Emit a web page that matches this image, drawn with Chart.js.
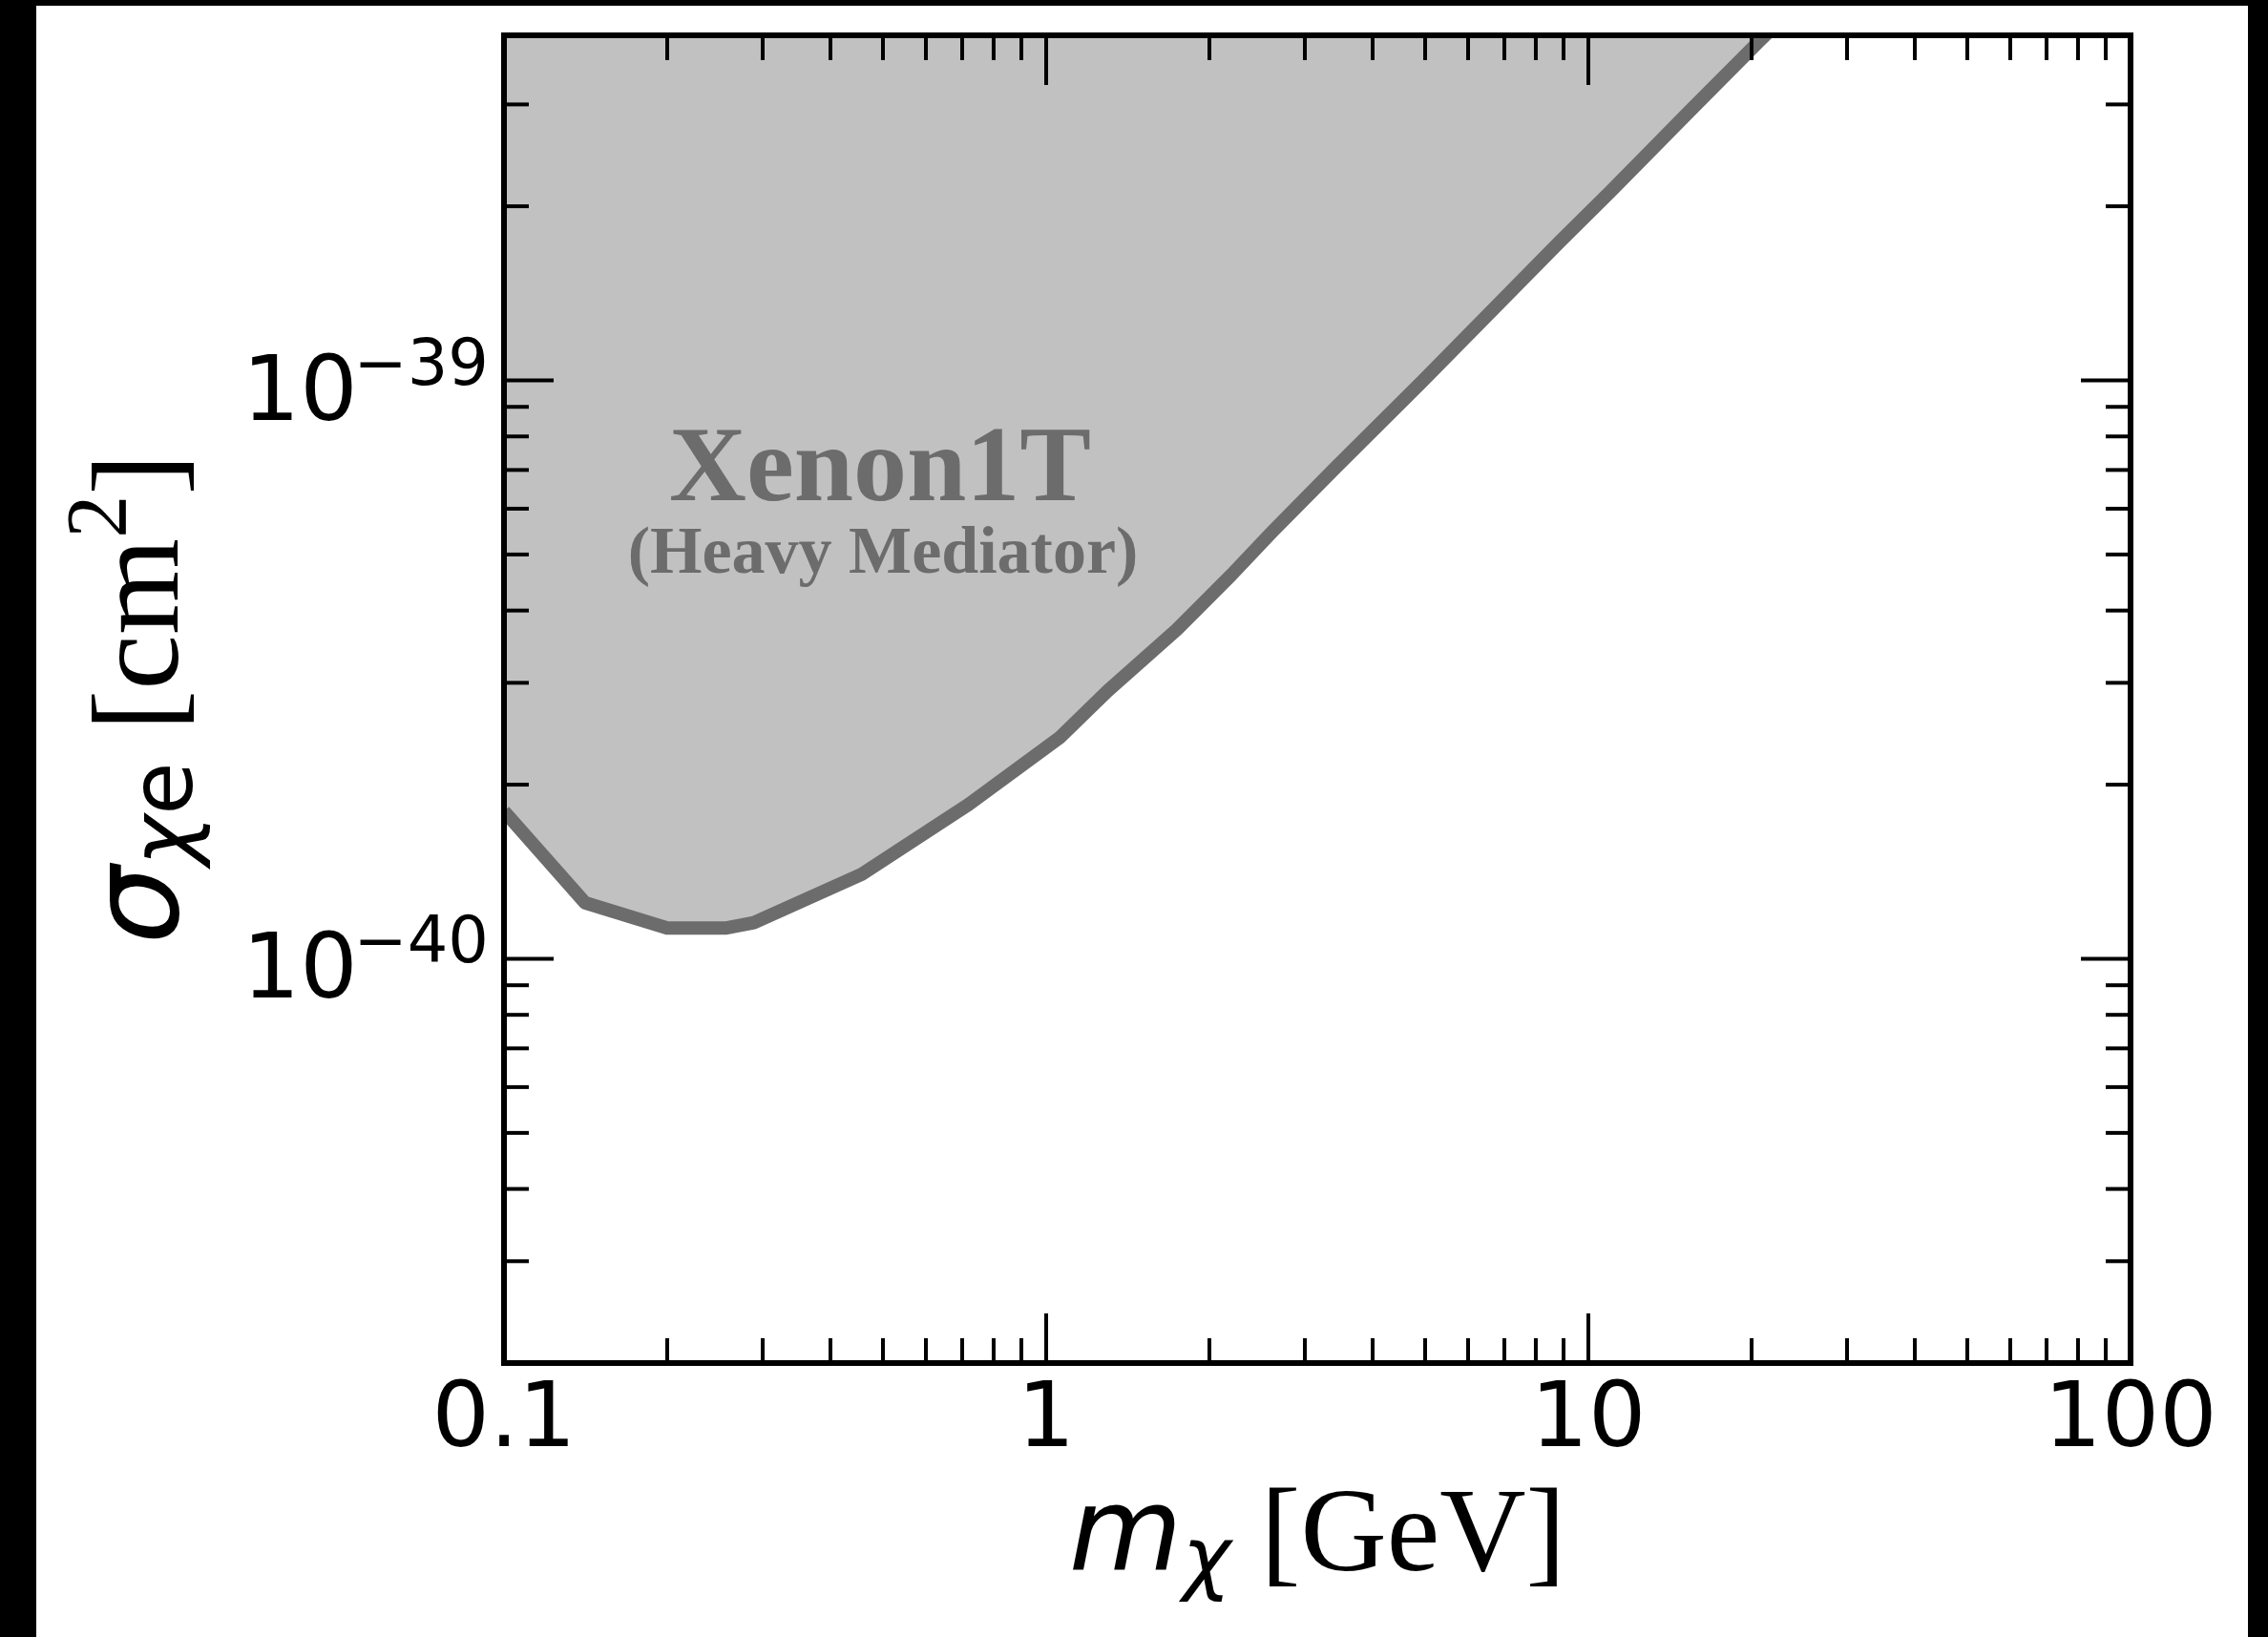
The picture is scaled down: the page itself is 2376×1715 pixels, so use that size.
<!DOCTYPE html>
<html><head><meta charset="utf-8">
<script src="https://cdn.jsdelivr.net/npm/chart.js@4/dist/chart.umd.min.js"></script>
<style>html,body{margin:0;padding:0;background:#000;overflow:hidden}canvas{display:block}</style>
</head><body>
<canvas id="c" width="2376" height="1715"></canvas>
<script>
// ---- data ----
const massGeV   = [0.1, 0.141, 0.2, 0.256, 0.289, 0.457, 0.72, 1.058, 1.296, 1.742, 2.196, 2.61, 3.43, 4.94, 8.82, 10.98, 15.37, 20.66, 25];
const sigmaCm2  = [1.8e-40, 1.25e-40, 1.13e-40, 1.13e-40, 1.155e-40, 1.40e-40, 1.85e-40, 2.41e-40, 2.90e-40, 3.71e-40, 4.61e-40, 5.47e-40, 7.09e-40, 9.96e-40, 1.73e-39, 2.12e-39, 2.92e-39, 3.86e-39, 4.6e-39];
const xMajorTicks = [0.1, 1, 10, 100];
const xTickLabels = ["0.1", "1", "10", "100"];
const yMajorExps  = [-40, -39];
const regionTitle = "Xenon1T";
const regionSubtitle = "(Heavy Mediator)";

const LINE = 'rgb(108,108,108)';
const FILL = 'rgb(193,193,193)';

const bgPlugin = {
  id: 'bg',
  beforeDraw(chart) {
    const c = chart.ctx;
    c.save();
    c.fillStyle = '#000';
    c.fillRect(0, 0, chart.width, chart.height);
    c.fillStyle = '#fff';
    c.fillRect(38, 6, 2355 - 38, chart.height - 6);
    c.restore();
  }
};

const annotPlugin = {
  id: 'annot',
  afterDatasetsDraw(chart) {
    const c = chart.ctx;
    c.save();
    c.fillStyle = LINE;
    c.textAlign = 'center';
    c.textBaseline = 'alphabetic';
    c.font = 'bold 112px "Liberation Serif"';
    c.fillText(regionTitle, 922, 524);
    c.font = 'bold 70px "Liberation Serif"';
    c.fillText(regionSubtitle, 925, 600);
    c.restore();
  }
};

const axesPlugin = {
  id: 'axesDeco',
  afterDraw(chart) {
    const c = chart.ctx, xs = chart.scales.x, ys = chart.scales.y, a = chart.chartArea;
    c.save();
    c.strokeStyle = '#000';
    c.lineCap = 'butt';
    const seg = (x1, y1, x2, y2) => { c.beginPath(); c.moveTo(x1, y1); c.lineTo(x2, y2); c.stroke(); };
    const MAJ = 52, MIN = 26;
    c.lineWidth = 4;
    const xTick = (v, len) => { const p = xs.getPixelForValue(v); seg(p, a.bottom, p, a.bottom - len); seg(p, a.top, p, a.top + len); };
    xMajorTicks.forEach(v => xTick(v, MAJ));
    for (let d = 0; d < xMajorTicks.length - 1; d++) for (let k = 2; k <= 9; k++) xTick(k * xMajorTicks[d], MIN);
    const yTick = (v, len) => { const p = ys.getPixelForValue(v); seg(a.left, p, a.left + len, p); seg(a.right, p, a.right - len, p); };
    yMajorExps.forEach(e => yTick(Math.pow(10, e), MAJ));
    for (let e = -41; e <= -39; e++) for (let k = 2; k <= 9; k++) {
      const v = k * Math.pow(10, e);
      if (v > ys.min * 1.001 && v < ys.max * 0.999) yTick(v, MIN);
    }
    c.lineWidth = 6;
    c.strokeRect(a.left, a.top, a.right - a.left, a.bottom - a.top);

    c.fillStyle = '#000';
    c.textAlign = 'center';
    c.textBaseline = 'alphabetic';
    c.font = '95px "DejaVu Sans"';
    xMajorTicks.forEach((v, i) => c.fillText(xTickLabels[i], xs.getPixelForValue(v), a.bottom + 87));

    yMajorExps.forEach(e => {
      const p = ys.getPixelForValue(Math.pow(10, e));
      const right = a.left - 16;
      c.textAlign = 'right';
      c.font = '67px "DejaVu Sans"';
      const sup = '\u2212' + String(-e);
      const supW = c.measureText(sup).width;
      c.fillText(sup, right, p + 4);
      c.font = '95px "DejaVu Sans"';
      c.fillText('10', right - supW + 4, p + 41);
    });

    {
      const parts = [
        {t: 'm', f: 'italic 122px "DejaVu Sans"', dy: 0},
        {t: '\u03C7', f: 'italic 86px "DejaVu Sans"', dy: 15},
        {t: ' ', f: '125px "Liberation Serif"', dy: 0},
        {t: '[GeV]', f: '125px "Liberation Serif"', dy: 0}
      ];
      let w = 0;
      parts.forEach(p => { c.font = p.f; p.w = c.measureText(p.t).width; w += p.w; });
      let x = (a.left + a.right) / 2 - w / 2;
      const base = 1645;
      c.textAlign = 'left';
      parts.forEach(p => { c.font = p.f; c.fillText(p.t, x, base + p.dy); x += p.w; });
    }

    {
      const parts = [
        {t: '\u03C3', f: 'italic 130px "DejaVu Sans"', dy: 0},
        {t: '\u03C7', f: 'italic 90px "DejaVu Sans"', dy: 15},
        {t: 'e', f: '90px "DejaVu Sans"', dy: 15},
        {t: ' ', f: '130px "Liberation Serif"', dy: 0},
        {t: '[cm', f: '130px "Liberation Serif"', dy: 0},
        {t: '2', f: '90px "Liberation Serif"', dy: -54},
        {t: ']', f: '130px "Liberation Serif"', dy: 0}
      ];
      let w = 0;
      parts.forEach(p => { c.font = p.f; p.w = c.measureText(p.t).width; w += p.w; });
      c.translate(186, (a.top + a.bottom) / 2);
      c.rotate(-Math.PI / 2);
      let x = -w / 2;
      c.textAlign = 'left';
      parts.forEach(p => { c.font = p.f; c.fillText(p.t, x, p.dy); x += p.w; });
    }
    c.restore();
  }
};

new Chart(document.getElementById('c').getContext('2d'), {
  type: 'line',
  data: {
    datasets: [{
      data: massGeV.map((m, i) => ({x: m, y: sigmaCm2[i]})),
      borderColor: LINE,
      borderWidth: 14,
      borderJoinStyle: 'round',
      backgroundColor: FILL,
      fill: 'end',
      pointRadius: 0,
      tension: 0,
      clip: 0
    }]
  },
  options: {
    responsive: false,
    animation: false,
    devicePixelRatio: 1,
    layout: {padding: {left: 528, right: 144, top: 37, bottom: 287}},
    plugins: {legend: {display: false}, tooltip: {enabled: false}},
    scales: {
      x: {type: 'logarithmic', min: 0.1, max: 100, display: false},
      y: {type: 'logarithmic', min: 2e-41, max: 3.95e-39, display: false}
    }
  },
  plugins: [bgPlugin, annotPlugin, axesPlugin]
});
</script>
</body></html>
